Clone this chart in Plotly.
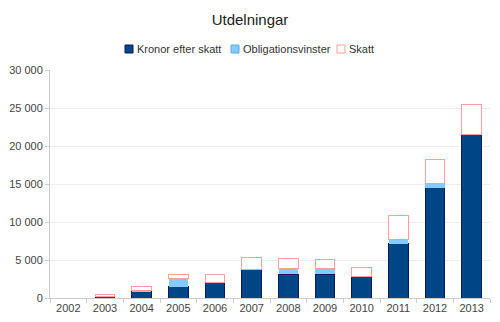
import plotly.graph_objects as go

years = ["2002", "2003", "2004", "2005", "2006", "2007", "2008", "2009", "2010", "2011", "2012", "2013"]
kronor = [0, 250, 850, 1450, 2100, 3700, 3150, 3100, 2800, 7150, 14500, 21500]
obligationer = [0, 0, 100, 1100, 0, 0, 750, 750, 0, 600, 600, 0]
skatt = [0, 150, 500, 600, 1000, 1600, 1250, 1250, 1250, 3100, 3100, 3900]
series_names = ["Kronor efter skatt", "Obligationsvinster", "Skatt"]

fills = ["#004586", "#83caff", "#ffffff"]
borders = ["#0b1a5e", "#83caff", "#ff9e9e"]
widths = [1, 0, 1]

W, H = 500, 322
L, R, T, B = 50, 10, 70, 24
pw, ph = W - L - R, H - T - B

fig = go.Figure()
for vals, nm, fc, bc, lw in zip([kronor, obligationer, skatt], series_names, fills, borders, widths):
    fig.add_trace(go.Bar(x=years, y=vals, name=nm, showlegend=False,
                         marker=dict(color=fc, line=dict(color=bc, width=lw))))

# custom compact legend (pixel positions converted to paper coords)
def px_x(px):
    return (px - L) / pw

def px_y(py):
    return (H - B - py) / ph

leg_sq_x = [125, 231, 337]
leg_y = 49
for sx, nm, fc, bc in zip(leg_sq_x, series_names, fills, ["#0b1a5e", "#5aa9e6", "#ff9e9e"]):
    fig.add_shape(type="rect", xref="paper", yref="paper",
                  x0=px_x(sx), x1=px_x(sx + 8), y0=px_y(leg_y + 4), y1=px_y(leg_y - 4),
                  fillcolor=fc, line=dict(color=bc, width=1))
    fig.add_annotation(text=nm, xref="paper", yref="paper", x=px_x(sx + 9.5), y=px_y(leg_y),
                       xanchor="left", yanchor="middle", showarrow=False,
                       font=dict(size=11, color="#333333"))

fig.update_layout(
    width=W, height=H,
    barmode="stack", bargap=0.47,
    paper_bgcolor="white", plot_bgcolor="white",
    margin=dict(l=L, r=R, t=T, b=B, autoexpand=False),
    font=dict(family="Liberation Sans, Arial, sans-serif", size=11, color="#444444"),
    separators=", ",
    title=dict(text="Utdelningar", x=0.5, xanchor="center", xref="container",
               y=1 - 20 / H, yref="container", yanchor="middle",
               font=dict(size=15, color="#222222")),
    showlegend=False,
)
fig.update_xaxes(type="category", showline=True, linecolor="#cccccc", linewidth=1,
                 ticks="outside", tickson="boundaries", ticklen=4, tickcolor="#cccccc",
                 showgrid=False, tickfont=dict(size=11, color="#444444"))
fig.update_yaxes(range=[0, 30000], tickvals=[0, 5000, 10000, 15000, 20000, 25000, 30000],
                 tickformat=",d", showline=True, linecolor="#cccccc", linewidth=1,
                 ticks="outside", ticklen=4, tickcolor="#cccccc",
                 showgrid=True, gridcolor="#eeeeee", zeroline=False,
                 tickfont=dict(size=11, color="#444444"))

fig.write_html("out.html")
